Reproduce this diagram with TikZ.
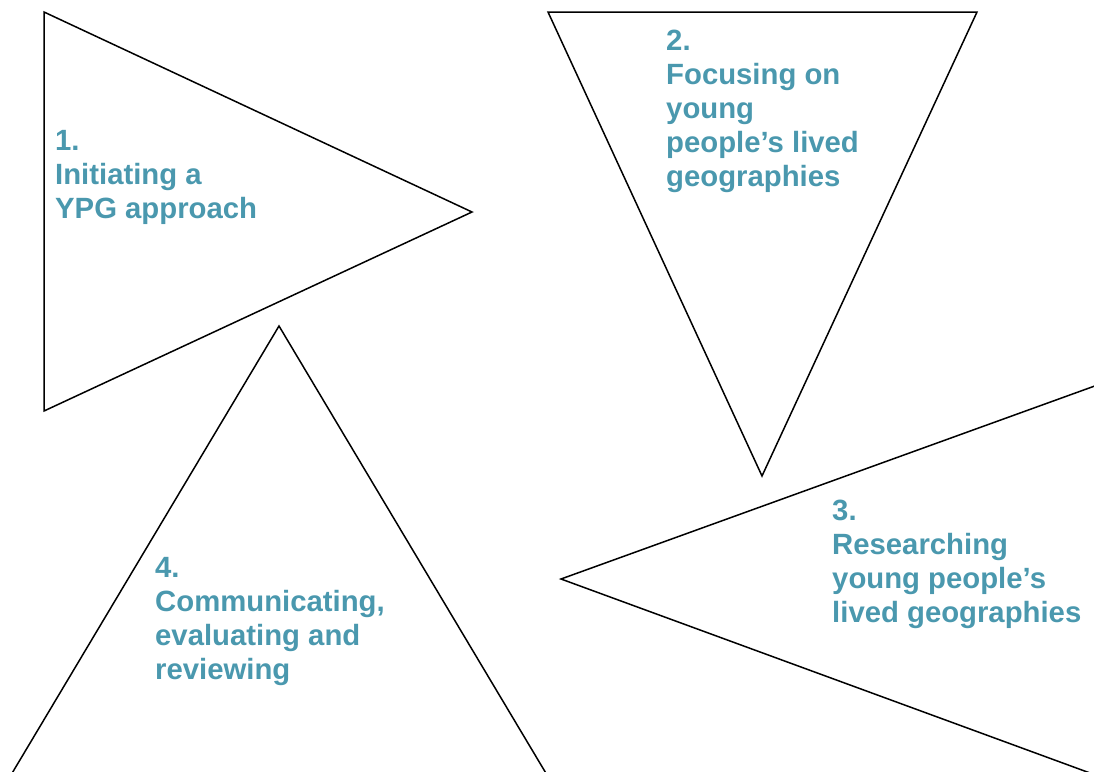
\documentclass[tikz,border=0pt]{standalone}
\usepackage{fontspec}
\setmainfont{Liberation Sans}
\definecolor{stagecol}{HTML}{4A98AE}
\begin{document}
\begin{tikzpicture}[x=1pt,y=-1pt,
  tri/.style={draw=black,line width=1.5pt,line join=miter},
  stage/.style={anchor=base west,inner sep=0pt,align=left,text=stagecol,
    font=\fontsize{29.3}{34}\selectfont\bfseries}]
\useasboundingbox (0,0) rectangle (1094,771);
\clip (0,0) rectangle (1094,771);
% four triangles, some running past the edge
\draw[tri] (44,12) coordinate (t1a) -- (472,212) coordinate (t1b) -- (44,411) coordinate (t1c) -- cycle;
\draw[tri] (548,12) coordinate (t2a) -- (977,12) coordinate (t2b) -- (762,476) coordinate (t2c) -- cycle;
\draw[tri] (561,579) coordinate (t3a) -- (1150,366) coordinate (t3b) -- (1150,795) coordinate (t3c) -- cycle;
\draw[tri] (279,326) coordinate (t4a) -- (550,780) coordinate (t4b) -- (8,780) coordinate (t4c) -- cycle;
% stage labels (anchored at the baseline of the last line)
\node[stage] (s1) at (55,218) {1.\\Initiating a\\YPG approach};
\node[stage] (s2) at (666,186) {2.\\Focusing on\\young\\people’s lived\\geographies};
\node[stage] (s3) at (832,622) {3.\\Researching\\young people’s\\lived geographies};
\node[stage] (s4) at (155,679) {4.\\Communicating,\\evaluating and\\reviewing};
\end{tikzpicture}
\end{document}
